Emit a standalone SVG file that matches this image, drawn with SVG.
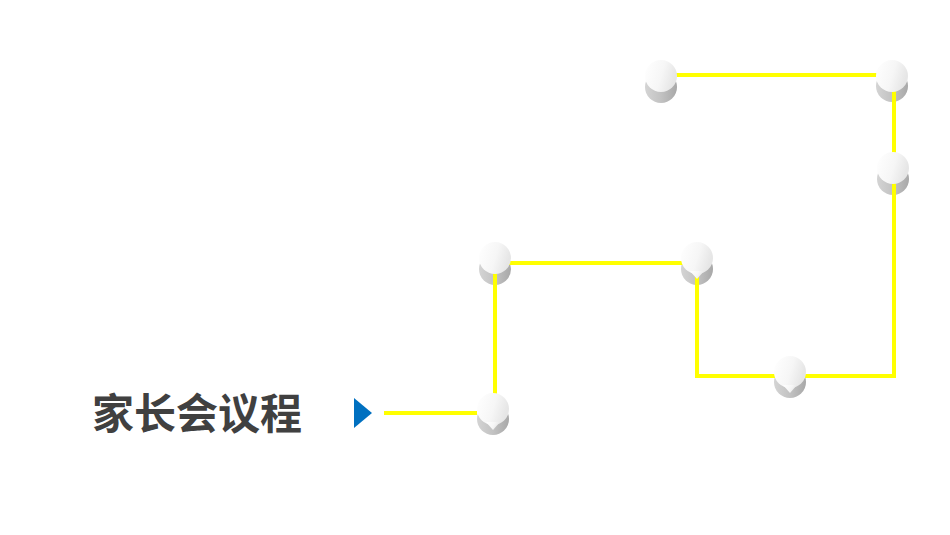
<svg xmlns="http://www.w3.org/2000/svg" width="950" height="535" viewBox="0 0 950 535">
<defs>
<linearGradient id="sh" x1="0" y1="0" x2="1" y2="0">
<stop offset="0" stop-color="#d4d4d4"/>
<stop offset="0.5" stop-color="#c2c2c2"/>
<stop offset="1" stop-color="#a8a8a8"/>
</linearGradient>
<linearGradient id="wh" x1="0" y1="0" x2="1" y2="0.3">
<stop offset="0" stop-color="#ffffff"/>
<stop offset="0.6" stop-color="#f6f6f6"/>
<stop offset="1" stop-color="#e6e6e6"/>
</linearGradient>
</defs>
<style>
.shadow{fill:url(#sh)}
.face{fill:url(#wh)}
.line{fill:none;stroke:#FFFF00;stroke-width:4;stroke-linejoin:miter}
.title{font-family:"Noto Sans CJK SC","Noto Sans",sans-serif;font-weight:bold;font-size:42px;fill:#404040}
</style>
<rect width="950" height="535" fill="#ffffff"/>
<g id="title"><text class="title" x="92" y="429">家长会议程</text></g>
<g id="arrow"><polygon points="354,398 372,413 354,428" fill="#0070C0"/></g>
<g id="shadows">
<circle class="shadow" cx="493" cy="419" r="16"/>
<circle class="shadow" cx="661" cy="87" r="16"/>
<circle class="shadow" cx="892" cy="86" r="16"/>
<circle class="shadow" cx="893" cy="179" r="16"/>
<circle class="shadow" cx="495" cy="269" r="16"/>
<circle class="shadow" cx="697" cy="269" r="16"/>
<circle class="shadow" cx="790" cy="382" r="16"/>
</g>
<g id="connectors">
<polyline class="line" points="384,413 477,413"/>
<polyline class="line" points="495,410 495,263 697,263 697,376 894,376 894,75 661,75"/>
</g>
<g id="node1"><circle class="face" cx="493" cy="409" r="16"/><polygon class="face" points="486,422 500,422 493,430"/></g>
<g id="node2"><circle class="face" cx="661" cy="76" r="16"/></g>
<g id="node3"><circle class="face" cx="892" cy="76" r="16"/></g>
<g id="node4"><circle class="face" cx="893" cy="168" r="16"/></g>
<g id="node5"><circle class="face" cx="495" cy="258" r="16"/></g>
<g id="node6"><circle class="face" cx="697" cy="258" r="16"/><polygon class="face" points="690,271 704,271 697,279"/></g>
<g id="node7"><circle class="face" cx="790" cy="372" r="16"/><polygon class="face" points="783,385 797,385 790,393"/></g>
</svg>
